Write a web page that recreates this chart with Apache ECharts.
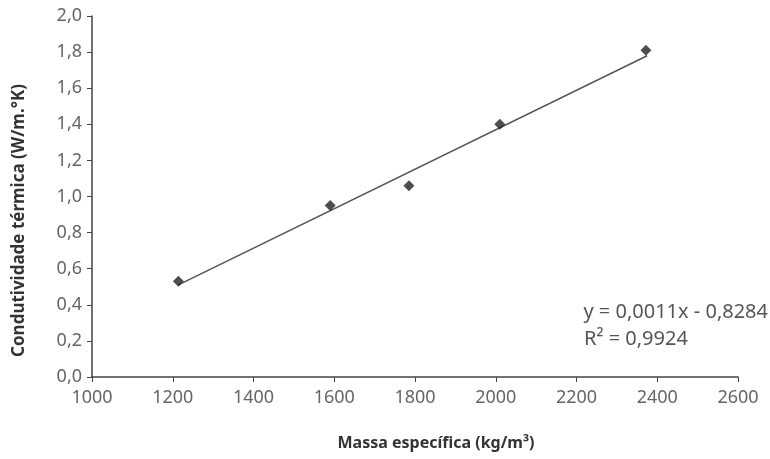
<!DOCTYPE html>
<html>
<head>
<meta charset="utf-8">
<script src="https://cdn.jsdelivr.net/npm/echarts@6/dist/echarts.min.js"></script>
<style>html,body{margin:0;padding:0;background:#fff}#c{width:770px;height:459px}</style>
</head>
<body>
<div id="c"></div>
<script>
// Data
const massa = [1214, 1590, 1785, 2010, 2372];
const condutividade = [0.53, 0.95, 1.06, 1.40, 1.81];
const trendX = [1214, 2375];
const trendY = [0.51, 1.78];
const xTicks = [1000, 1200, 1400, 1600, 1800, 2000, 2200, 2400, 2600];
const yTicks = ['0,0','0,2','0,4','0,6','0,8','1,0','1,2','1,4','1,6','1,8','2,0'];
const equation = 'y = 0,0011x - 0,8284';
const r2 = 'R² = 0,9924';

const font = '"Noto Sans", "DejaVu Sans", sans-serif';
const chart = echarts.init(document.getElementById('c'));
chart.setOption({
  animation: false,
  backgroundColor: '#fff',
  grid: { left: 92, right: 32, top: 16, bottom: 82 },
  xAxis: {
    type: 'value', min: 1000, max: 2600, interval: 200,
    name: 'Massa específica (kg/m³)', nameLocation: 'middle', nameGap: 58,
    nameTextStyle: { fontFamily: font, fontWeight: 'bold', fontSize: 16, color: '#333', padding: [0, 0, 0, 42] },
    axisLine: { lineStyle: { color: '#444', width: 1.5 } },
    axisTick: { show: true, length: 5, lineStyle: { color: '#444' } },
    axisLabel: { fontFamily: font, fontSize: 18, color: '#666', margin: 12,
      formatter: v => xTicks.includes(v) ? String(v) : '' },
    splitLine: { show: false }
  },
  yAxis: {
    type: 'value', min: 0, max: 2, interval: 0.2,
    name: 'Condutividade térmica (W/m.°K)', nameLocation: 'middle', nameGap: 64,
    nameTextStyle: { fontFamily: font, fontWeight: 'bold', fontSize: 17, color: '#333', padding: [0, 48, 0, 0] },
    axisLine: { show: true, lineStyle: { color: '#444', width: 1.5 } },
    axisTick: { show: true, length: 5, lineStyle: { color: '#444' } },
    axisLabel: { fontFamily: font, fontSize: 18, color: '#666', margin: 10,
      formatter: v => yTicks[Math.round(v / 0.2)] },
    splitLine: { show: false }
  },
  series: [
    {
      type: 'line', data: trendX.map((x, i) => [x, trendY[i]]),
      symbol: 'none', lineStyle: { color: '#555', width: 1.5 }, z: 2
    },
    {
      type: 'scatter', data: massa.map((x, i) => [x, condutividade[i]]),
      symbol: 'diamond', symbolSize: 11, itemStyle: { color: '#222' }, z: 3
    }
  ],
  graphic: [
    { type: 'text', right: 2, top: 302, style: { text: equation, font: '20px ' + font, fill: '#555' } },
    { type: 'text', left: 584, top: 329, style: { text: r2, font: '20px ' + font, fill: '#555' } }
  ]
});
</script>
</body>
</html>
